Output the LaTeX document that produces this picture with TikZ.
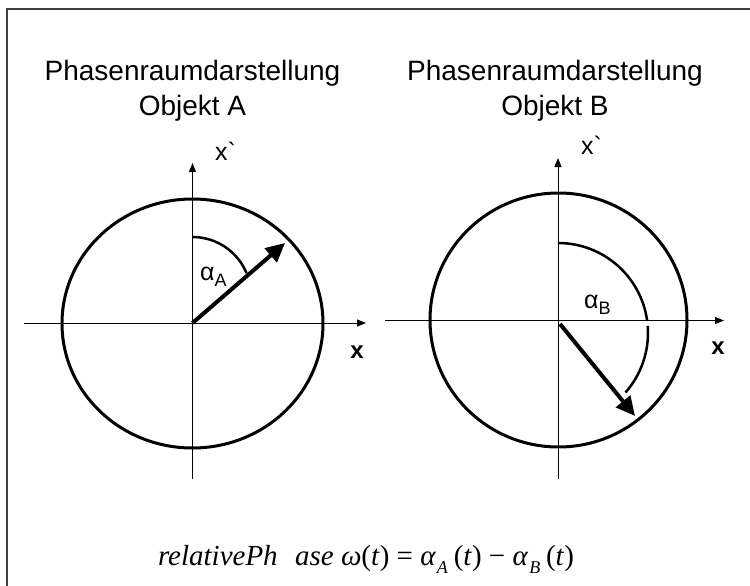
\documentclass[tikz,border=0pt]{standalone}
\usepackage{fontspec}
\newfontfamily\labfont{Liberation Sans}
\newfontfamily\formfont{Liberation Serif}
\usetikzlibrary{arrows.meta}
\newcommand{\fsub}[1]{\kern0.05em\raisebox{-0.3em}{\fontsize{18}{18}\selectfont\itshape #1}\kern0.2em}
\newcommand{\up}[1]{\textup{#1}}
\begin{document}
\begin{tikzpicture}[x=1pt,y=-1pt,
  titletext/.style={font=\labfont\fontsize{28}{33}\selectfont, inner sep=0pt, anchor=base},
  axlabel/.style={font=\labfont\fontsize{25}{29}\selectfont, inner sep=0pt},
  axbold/.style={font=\labfont\bfseries\fontsize{24}{29}\selectfont, inner sep=0pt},
  anglabel/.style={font=\labfont\fontsize{25}{29}\selectfont, inner sep=0pt, anchor=base west},
  axis/.style={line width=1pt, -{Triangle[length=9pt,width=7pt]}},
  orbit/.style={line width=3pt},
  angarc/.style={line width=2.5pt},
  vec/.style={line width=4pt, -{Triangle[length=19pt,width=18pt]}},
  framel/.style={line width=2pt, black!75}]
\useasboundingbox (0,0) rectangle (750,586);
% frame
\coordinate (fr1) at (750,9);
\coordinate (fr2) at (6.5,9);
\coordinate (fr3) at (6.5,586);
\draw[framel] (fr1) -- (fr2) -- (fr3);
% titles
\node[titletext] (tA1) at (192.5,81) {Phasenraumdarstellung};
\node[titletext] (tA2) at (192.5,115) {Objekt A};
\node[titletext] (tB1) at (555,81) {Phasenraumdarstellung};
\node[titletext] (tB2) at (555,115) {Objekt B};
% ---- diagram A
\coordinate (OA) at (192.5,323);
\coordinate (Axl) at (24,323);
\coordinate (Axr) at (366,323);
\coordinate (Ayb) at (192.5,479);
\coordinate (Ayt) at (192.5,163);
\draw[orbit] (192.5,323.5) ellipse[x radius=130.5pt, y radius=124.5pt];
\draw[axis] (Axl) -- (Axr);
\draw[axis] (Ayb) -- (Ayt);
\coordinate (Aarc) at (192.5,237);
\draw[angarc] (Aarc) arc[start angle=90,end angle=22.6,radius=58.5pt];
\coordinate (Atip) at (285,243);
\draw[vec] (OA) -- (Atip);
\node[anglabel] (alA) at (200,280) {α\raisebox{-6pt}{\fontsize{18}{18}\selectfont A}};
\node[axlabel, anchor=base west] (xpA) at (215,160) {x`};
\node[axbold] (xA) at (357,352) {x};
% ---- diagram B
\coordinate (OB) at (558,320.5);
\coordinate (Bxl) at (385,320.5);
\coordinate (Bxr) at (724,320.5);
\coordinate (Byb) at (558,479);
\coordinate (Byt) at (558,158);
\draw[orbit] (558.5,320) ellipse[x radius=128.5pt, y radius=127pt];
\draw[axis] (Bxl) -- (Bxr);
\draw[axis] (Byb) -- (Byt);
\coordinate (Barc1) at (558,243);
\coordinate (Barc2) at (647.7,325.9);
\draw[angarc] (Barc1) arc[start angle=90,end angle=7.7,radius=90pt];
\draw[angarc] (Barc2) arc[start angle=4.5,end angle=-41.4,radius=90pt];
\coordinate (Bstart) at (560,324);
\coordinate (Btip) at (635,416);
\draw[vec] (Bstart) -- (Btip);
\node[anglabel] (alB) at (584,308) {α\raisebox{-6pt}{\fontsize{18}{18}\selectfont B}};
\node[axlabel, anchor=base west] (xpB) at (581,154) {x`};
\node[axbold] (xB) at (718,348) {x};
% formula
\node[inner sep=0pt, anchor=base, font=\formfont\fontsize{29}{33}\selectfont\itshape] (form) at (366,565)
  {relativePh\hspace{0.6em}ase ω\up{(}t\up{)} \up{=} α\fsub{A}\up{(}t\up{)} \up{−} α\fsub{B}\up{(}t\up{)}};
\end{tikzpicture}
\end{document}
